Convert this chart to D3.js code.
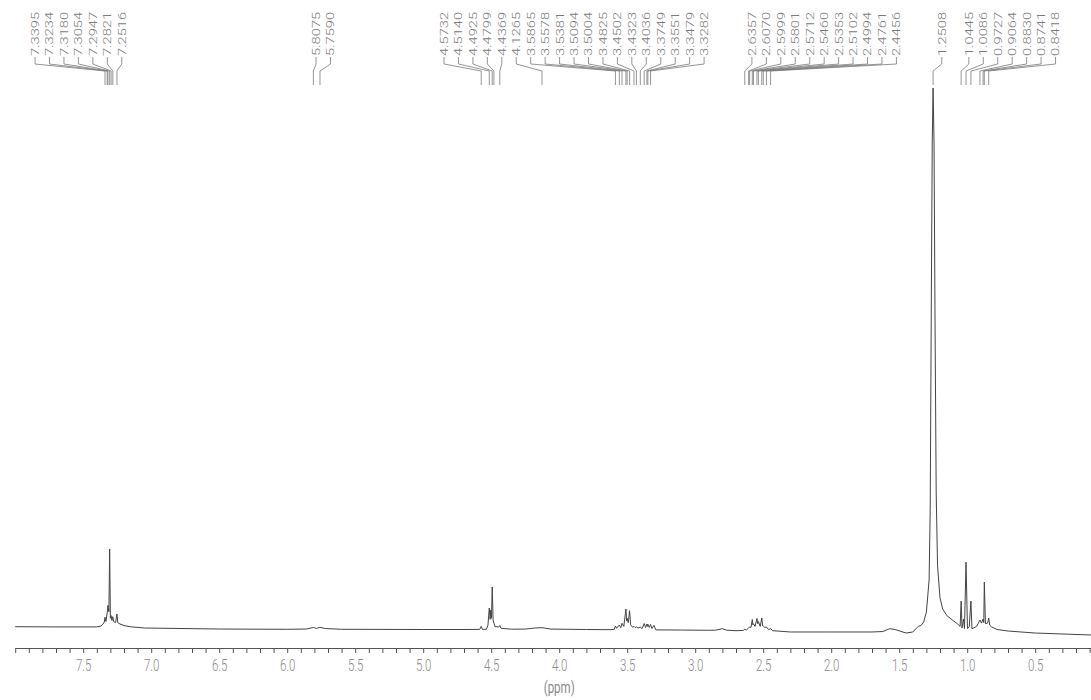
<!DOCTYPE html>
<html>
<head>
<meta charset="utf-8">
<script src="https://cdn.jsdelivr.net/npm/d3@7/dist/d3.min.js"></script>
<style>
  html, body { margin: 0; padding: 0; background: #fff; }
  svg { display: block; }
</style>
</head>
<body>
<svg id="chart" width="1091" height="700"></svg>
<script>
// ---------- DATA ----------
// Peak-picking labels (ppm), one array per group
const peakGroup1 = ["7.3395","7.3234","7.3180","7.3054","7.2947","7.2821","7.2516"];
const peakGroup2 = ["5.8075","5.7590"];
const peakGroup3 = ["4.5732","4.5140","4.4925","4.4799","4.4369","4.1265","3.5865","3.5578","3.5381","3.5094","3.5004","3.4825","3.4502","3.4323","3.4036","3.3749","3.3551","3.3479","3.3282"];
const peakGroup4 = ["2.6357","2.6070","2.5999","2.5801","2.5712","2.5460","2.5353","2.5102","2.4994","2.4761","2.4456"];
const peakGroup5 = ["1.2508"];
const peakGroup6 = ["1.0445","1.0086","0.9727","0.9064","0.8830","0.8741","0.8418"];
// ppm at which the first label of each group is printed
const labelStartPpm = [7.854, 5.788, 4.847, 2.583, 1.187, 0.988];

// Axis tick labels (ppm)
const tickLabels = [7.5, 7.0, 6.5, 6.0, 5.5, 5.0, 4.5, 4.0, 3.5, 3.0, 2.5, 2.0, 1.5, 1.0, 0.5];

// Spectrum trace: [ppm, relative intensity]
const spectrumPoints = [
  [8.00, 0.24], [7.70, 0.20], [7.40, 0.20], [7.37, 0.35], [7.355, 0.7], [7.345, 1.1],
  [7.3395, 1.98], [7.333, 1.2], [7.3234, 2.8], [7.3180, 4.2], [7.311, 3.0], [7.3054, 14.63],
  [7.300, 1.8], [7.2947, 2.3], [7.289, 1.4], [7.2821, 2.1], [7.276, 1.2], [7.262, 1.0],
  [7.2516, 2.6], [7.246, 1.0], [7.23, 0.75], [7.20, 0.45], [7.15, 0.22], [7.05, 0.0],
  [6.50, -0.19], [6.00, -0.24], [5.86, -0.19], [5.8075, 0.09], [5.785, -0.07], [5.759, 0.13],
  [5.72, -0.1], [5.60, -0.24], [5.00, -0.28], [4.70, -0.28], [4.585, -0.26], [4.5732, 0.3],
  [4.565, -0.26], [4.535, -0.22], [4.524, 0.5], [4.5140, 3.7], [4.508, 1.6], [4.503, 3.3],
  [4.498, 1.8], [4.4925, 7.6], [4.486, 1.5], [4.4799, 0.9], [4.472, 0.25], [4.445, 0.2],
  [4.4369, 0.45], [4.428, -0.05], [4.35, -0.22], [4.25, -0.2], [4.18, 0.0], [4.1265, 0.06],
  [4.06, -0.2], [3.80, -0.28], [3.62, -0.31], [3.595, -0.25], [3.5865, 0.37], [3.578, -0.05],
  [3.5578, 0.56], [3.547, 0.05], [3.5381, 0.87], [3.525, 0.3], [3.5094, 3.52], [3.504, 1.3],
  [3.5004, 1.8], [3.492, 1.0], [3.4825, 3.2], [3.475, 0.6], [3.46, 0.15], [3.4502, 0.31],
  [3.442, 0.1], [3.4323, 0.19], [3.42, 0.0], [3.4036, 0.15], [3.39, -0.1], [3.3749, 0.83],
  [3.365, 0.1], [3.3551, 0.74], [3.3515, 0.3], [3.3479, 0.7], [3.338, 0.1], [3.3282, 0.65],
  [3.318, -0.1], [3.303, 0.5], [3.29, -0.35], [3.10, -0.38], [2.90, -0.42], [2.85, -0.4],
  [2.80, -0.13], [2.77, -0.4], [2.70, -0.5], [2.645, -0.45], [2.6357, -0.19], [2.625, -0.4],
  [2.6070, 0.0], [2.5999, 0.2], [2.59, 0.1], [2.5801, 1.57], [2.576, 0.6], [2.5712, 0.8],
  [2.56, 0.3], [2.5460, 1.76], [2.54, 0.8], [2.5353, 1.2], [2.522, 0.3], [2.5102, 1.85],
  [2.504, 0.4], [2.4994, 0.37], [2.488, 0.1], [2.4761, 0.19], [2.46, -0.3], [2.4456, -0.13],
  [2.43, -0.5], [2.30, -0.74], [2.00, -0.74], [1.70, -0.74], [1.62, -0.65], [1.57, -0.13],
  [1.53, -0.28], [1.45, -0.93], [1.40, -0.74], [1.36, 0.31], [1.34, 0.46], [1.32, 1.11],
  [1.30, 2.96], [1.28, 8.89], [1.272, 22], [1.265, 55], [1.257, 90], [1.2508, 100],
  [1.244, 90], [1.236, 55], [1.228, 25], [1.218, 11.5], [1.20, 5.6], [1.18, 3.5],
  [1.15, 2.3], [1.10, 1.30], [1.07, 0.74], [1.052, 0.3], [1.0445, 5.0], [1.038, 0.0],
  [1.027, 1.67], [1.02, -0.1], [1.0086, 12.2], [0.998, -0.1], [0.985, 0.2], [0.9727, 5.0],
  [0.965, -0.15], [0.93, 0.3], [0.9064, 1.48], [0.895, 0.9], [0.8830, 1.67], [0.878, 1.0],
  [0.8741, 8.52], [0.866, 0.8], [0.85, 0.9], [0.8418, 1.85], [0.834, 0.5], [0.82, 0.19],
  [0.78, -0.28], [0.70, -0.56], [0.50, -0.93], [0.20, -1.2], [0.08, -1.3]
];

// ---------- DRAWING ----------
const W = 1091, H = 700;
const svg = d3.select("#chart");

const x = d3.scaleLinear().domain([8.0, 0.0]).range([15.2, 1103.2]);
const y = d3.scaleLinear().domain([0, 100]).range([628, 88]);

svg.append("defs").append("clipPath").attr("id", "clip")
  .append("rect").attr("x", 0).attr("y", 0).attr("width", W).attr("height", H);

const g = svg.append("g").attr("clip-path", "url(#clip)");

// spectrum
g.append("path")
  .datum(spectrumPoints)
  .attr("fill", "none")
  .attr("stroke", "#444")
  .attr("stroke-width", 1)
  .attr("stroke-linejoin", "round")
  .attr("d", d3.line().x(d => x(d[0])).y(d => y(d[1])));

// axis
const tickVals = d3.range(1, 81).map(i => i / 10);
const labelSet = new Set(tickLabels.map(v => v.toFixed(1)));
const axis = d3.axisBottom(x)
  .tickValues(tickVals)
  .tickSize(5)
  .tickSizeOuter(0)
  .tickFormat(d => labelSet.has(d.toFixed(1)) ? d.toFixed(1) : "");
const ax = g.append("g").attr("transform", "translate(0,648)").call(axis);
ax.select(".domain").attr("stroke", "#555").attr("stroke-width", 1);
ax.selectAll(".tick line").attr("stroke", "#555").attr("stroke-width", 1);
ax.selectAll(".tick text")
  .attr("y", 23).attr("dy", null)
  .attr("fill", "#8a8a8a")
  .style("font-family", "'Liberation Sans Narrow', 'Roboto', sans-serif")
  .style("font-size", "16px")
  .style("font-weight", "300")
  .each(function(d) {
    if (this.textContent) {
      d3.select(this).attr("textLength", 15.5).attr("lengthAdjust", "spacingAndGlyphs");
    }
  });

// axis title
g.append("text")
  .attr("x", x(4.0)).attr("y", 693)
  .attr("text-anchor", "middle")
  .attr("fill", "#8a8a8a")
  .attr("textLength", 31).attr("lengthAdjust", "spacingAndGlyphs")
  .style("font-family", "'Liberation Sans Narrow', 'Roboto', sans-serif")
  .style("font-size", "16px")
  .text("(ppm)");

// peak labels with leader lines
const labelGroups = [peakGroup1, peakGroup2, peakGroup3, peakGroup4, peakGroup5, peakGroup6];
const spacing = 14.45;
const textBottom = 56, v1 = 64, slantEnd = 71, v2 = 85;
const lab = g.append("g");
labelGroups.forEach((grp, gi) => {
  const x0 = x(labelStartPpm[gi]);
  grp.forEach((s, i) => {
    const lx = x0 + i * spacing;
    const px = x(+s);
    lab.append("path")
      .attr("d", `M${lx},${textBottom + 1}V${v1}L${px},${slantEnd}V${v2}`)
      .attr("fill", "none")
      .attr("stroke", "#7a7a7a")
      .attr("stroke-width", 0.8);
    lab.append("text")
      .attr("transform", `translate(${lx + 3.9},${textBottom}) rotate(-90)`)
      .attr("text-anchor", "start")
      .attr("fill", "#7a7a7a")
      .attr("textLength", 44).attr("lengthAdjust", "spacingAndGlyphs")
      .style("font-family", "'Roboto', 'DejaVu Sans', sans-serif")
      .style("font-size", "11px")
      .style("font-weight", "300")
      .text(s);
  });
});
</script>
</body>
</html>
